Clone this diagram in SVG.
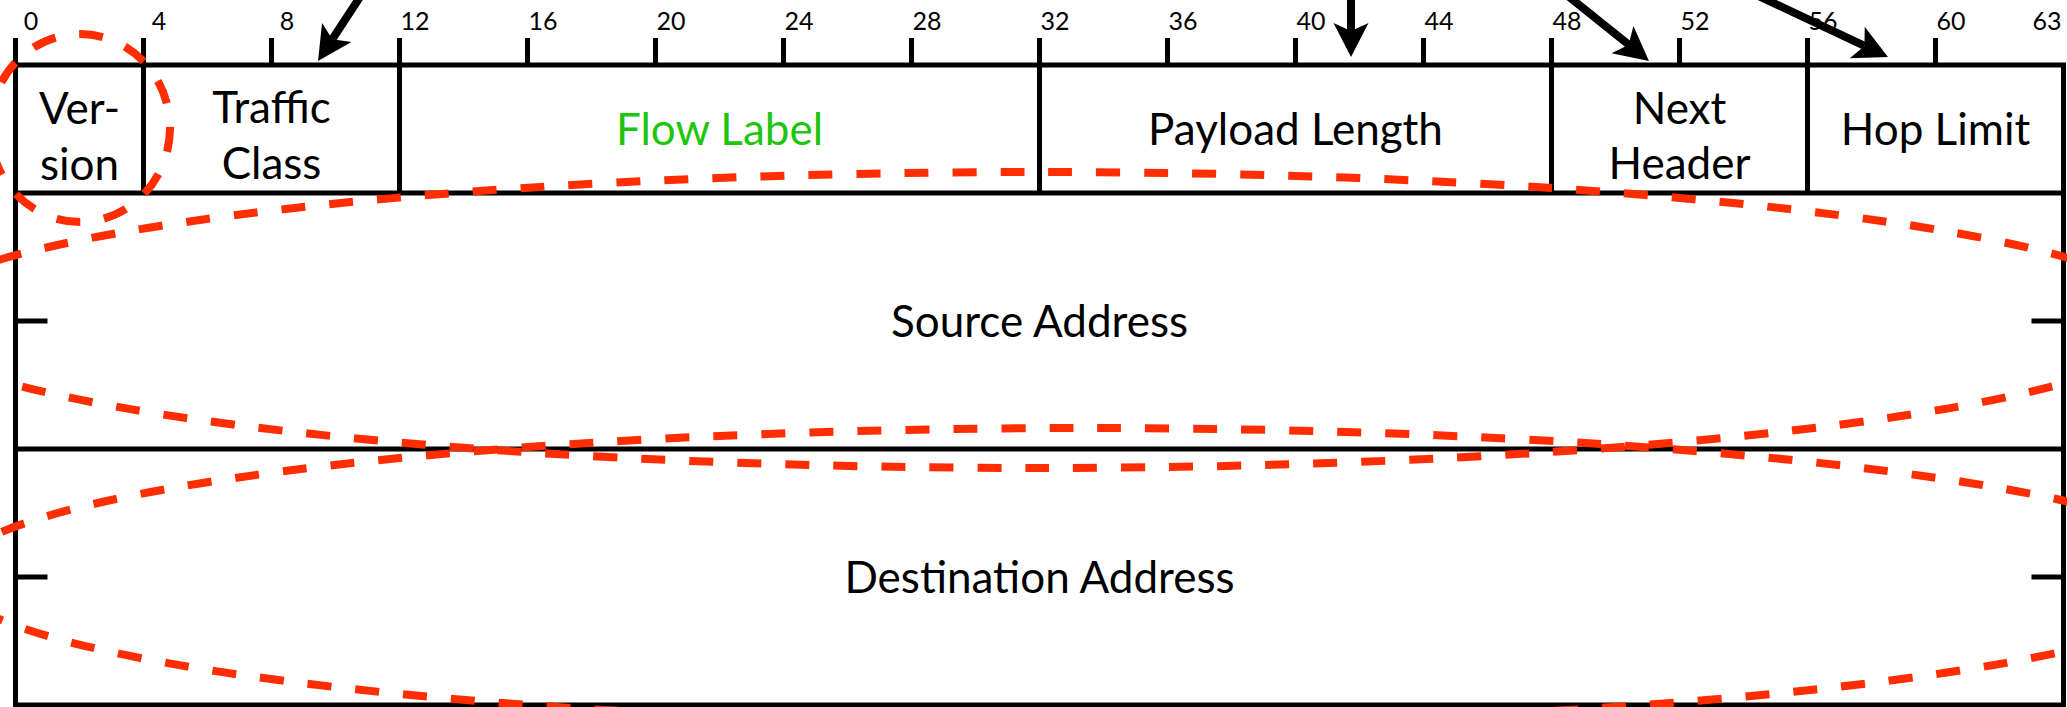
<svg xmlns="http://www.w3.org/2000/svg" width="2067" height="707" viewBox="0 0 2067 707">
  <style>
    .frame { fill: none; stroke: #000; stroke-width: 5; }
    .rule { stroke: #000; stroke-width: 5; fill: none; }
    .bitnum { font-family: Lato, "Liberation Sans", sans-serif; font-size: 25px; fill: #000; text-anchor: middle; }
    .field { font-family: Lato, "Liberation Sans", sans-serif; font-size: 44px; fill: #000; text-anchor: middle; }
    .flow { fill: #1fc40c; }
    .ring { fill: none; stroke: #ff2d00; stroke-width: 8; stroke-dasharray: 24 24; }
    .arrow { stroke: #000; stroke-width: 8; fill: none; marker-end: url(#head); }
  </style>
  <defs>
    <marker id="head" markerUnits="userSpaceOnUse" markerWidth="40" markerHeight="40" viewBox="0 -20 40 40" refX="8" refY="0" orient="auto" overflow="visible">
      <path d="M0,-17.5 L34,0 L0,17.5 L8,0 Z" fill="#000"/>
    </marker>
  </defs>
  <rect width="2067" height="707" fill="#fff"/>

  <!-- bit ruler: one tick every 4 bits, 32 px per bit -->
  <g id="ruler">
    <path class="rule" d="M15.5,38 V65 M143.5,38 V65 M271.5,38 V65 M399.5,38 V65 M527.5,38 V65 M655.5,38 V65 M783.5,38 V65 M911.5,38 V65 M1039.5,38 V65 M1167.5,38 V65 M1295.5,38 V65 M1423.5,38 V65 M1551.5,38 V65 M1679.5,38 V65 M1807.5,38 V65 M1935.5,38 V65"/>
    <text class="bitnum" x="31" y="29.5">0</text>
    <text class="bitnum" x="159" y="29.5">4</text>
    <text class="bitnum" x="287" y="29.5">8</text>
    <text class="bitnum" x="415" y="29.5">12</text>
    <text class="bitnum" x="543" y="29.5">16</text>
    <text class="bitnum" x="671" y="29.5">20</text>
    <text class="bitnum" x="799" y="29.5">24</text>
    <text class="bitnum" x="927" y="29.5">28</text>
    <text class="bitnum" x="1055" y="29.5">32</text>
    <text class="bitnum" x="1183" y="29.5">36</text>
    <text class="bitnum" x="1311" y="29.5">40</text>
    <text class="bitnum" x="1439" y="29.5">44</text>
    <text class="bitnum" x="1567" y="29.5">48</text>
    <text class="bitnum" x="1695" y="29.5">52</text>
    <text class="bitnum" x="1823" y="29.5">56</text>
    <text class="bitnum" x="1951" y="29.5">60</text>
    <text class="bitnum" x="2047" y="29.5">63</text>
  </g>

  <!-- header frame and row separators -->
  <g id="frame">
    <rect class="frame" x="15.5" y="65" width="2048" height="640"/>
    <path class="rule" d="M15.5,193 H2063.5 M15.5,449 H2063.5"/>
    <path class="rule" d="M15.5,321 H47.5 M2031.5,321 H2063.5 M15.5,577 H47.5 M2031.5,577 H2063.5"/>
  </g>

  <g id="version">
    <path class="rule" d="M143.5,65 V193"/>
    <text class="field" x="79.5" y="124">Ver-</text>
    <text class="field" x="79.5" y="180">sion</text>
  </g>
  <g id="traffic-class">
    <path class="rule" d="M399.5,65 V193"/>
    <text class="field" x="271.5" y="123">Traffic</text>
    <text class="field" x="271.5" y="179">Class</text>
  </g>
  <g id="flow-label">
    <path class="rule" d="M1039.5,65 V193"/>
    <text class="field flow" x="719.5" y="145">Flow Label</text>
  </g>
  <g id="payload-length">
    <path class="rule" d="M1551.5,65 V193"/>
    <text class="field" x="1295.5" y="145">Payload Length</text>
  </g>
  <g id="next-header">
    <path class="rule" d="M1807.5,65 V193"/>
    <text class="field" x="1679.5" y="124">Next</text>
    <text class="field" x="1679.5" y="179">Header</text>
  </g>
  <g id="hop-limit">
    <text class="field" x="1935.5" y="145">Hop Limit</text>
  </g>
  <g id="source-address">
    <text class="field" x="1039.5" y="336.5">Source Address</text>
  </g>
  <g id="destination-address">
    <text class="field" x="1039.5" y="592.5">Destination Address</text>
  </g>

  <!-- dashed highlight rings -->
  <g id="highlights">
    <ellipse class="ring" cx="80" cy="128" rx="90" ry="94"/>
    <ellipse class="ring" cx="1037" cy="320" rx="1136" ry="148"/>
    <ellipse class="ring" cx="1086" cy="576" rx="1136" ry="148"/>
  </g>

  <g id="connectors">
    <line class="arrow" x1="364.6" y1="-10" x2="332.3" y2="39.2"/>
    <line class="arrow" x1="1351" y1="-10" x2="1351" y2="31"/>
    <line class="arrow" x1="1560.5" y1="-10" x2="1628.7" y2="44.7"/>
    <line class="arrow" x1="1745.8" y1="-10" x2="1864.5" y2="45.9"/>
  </g>
</svg>
